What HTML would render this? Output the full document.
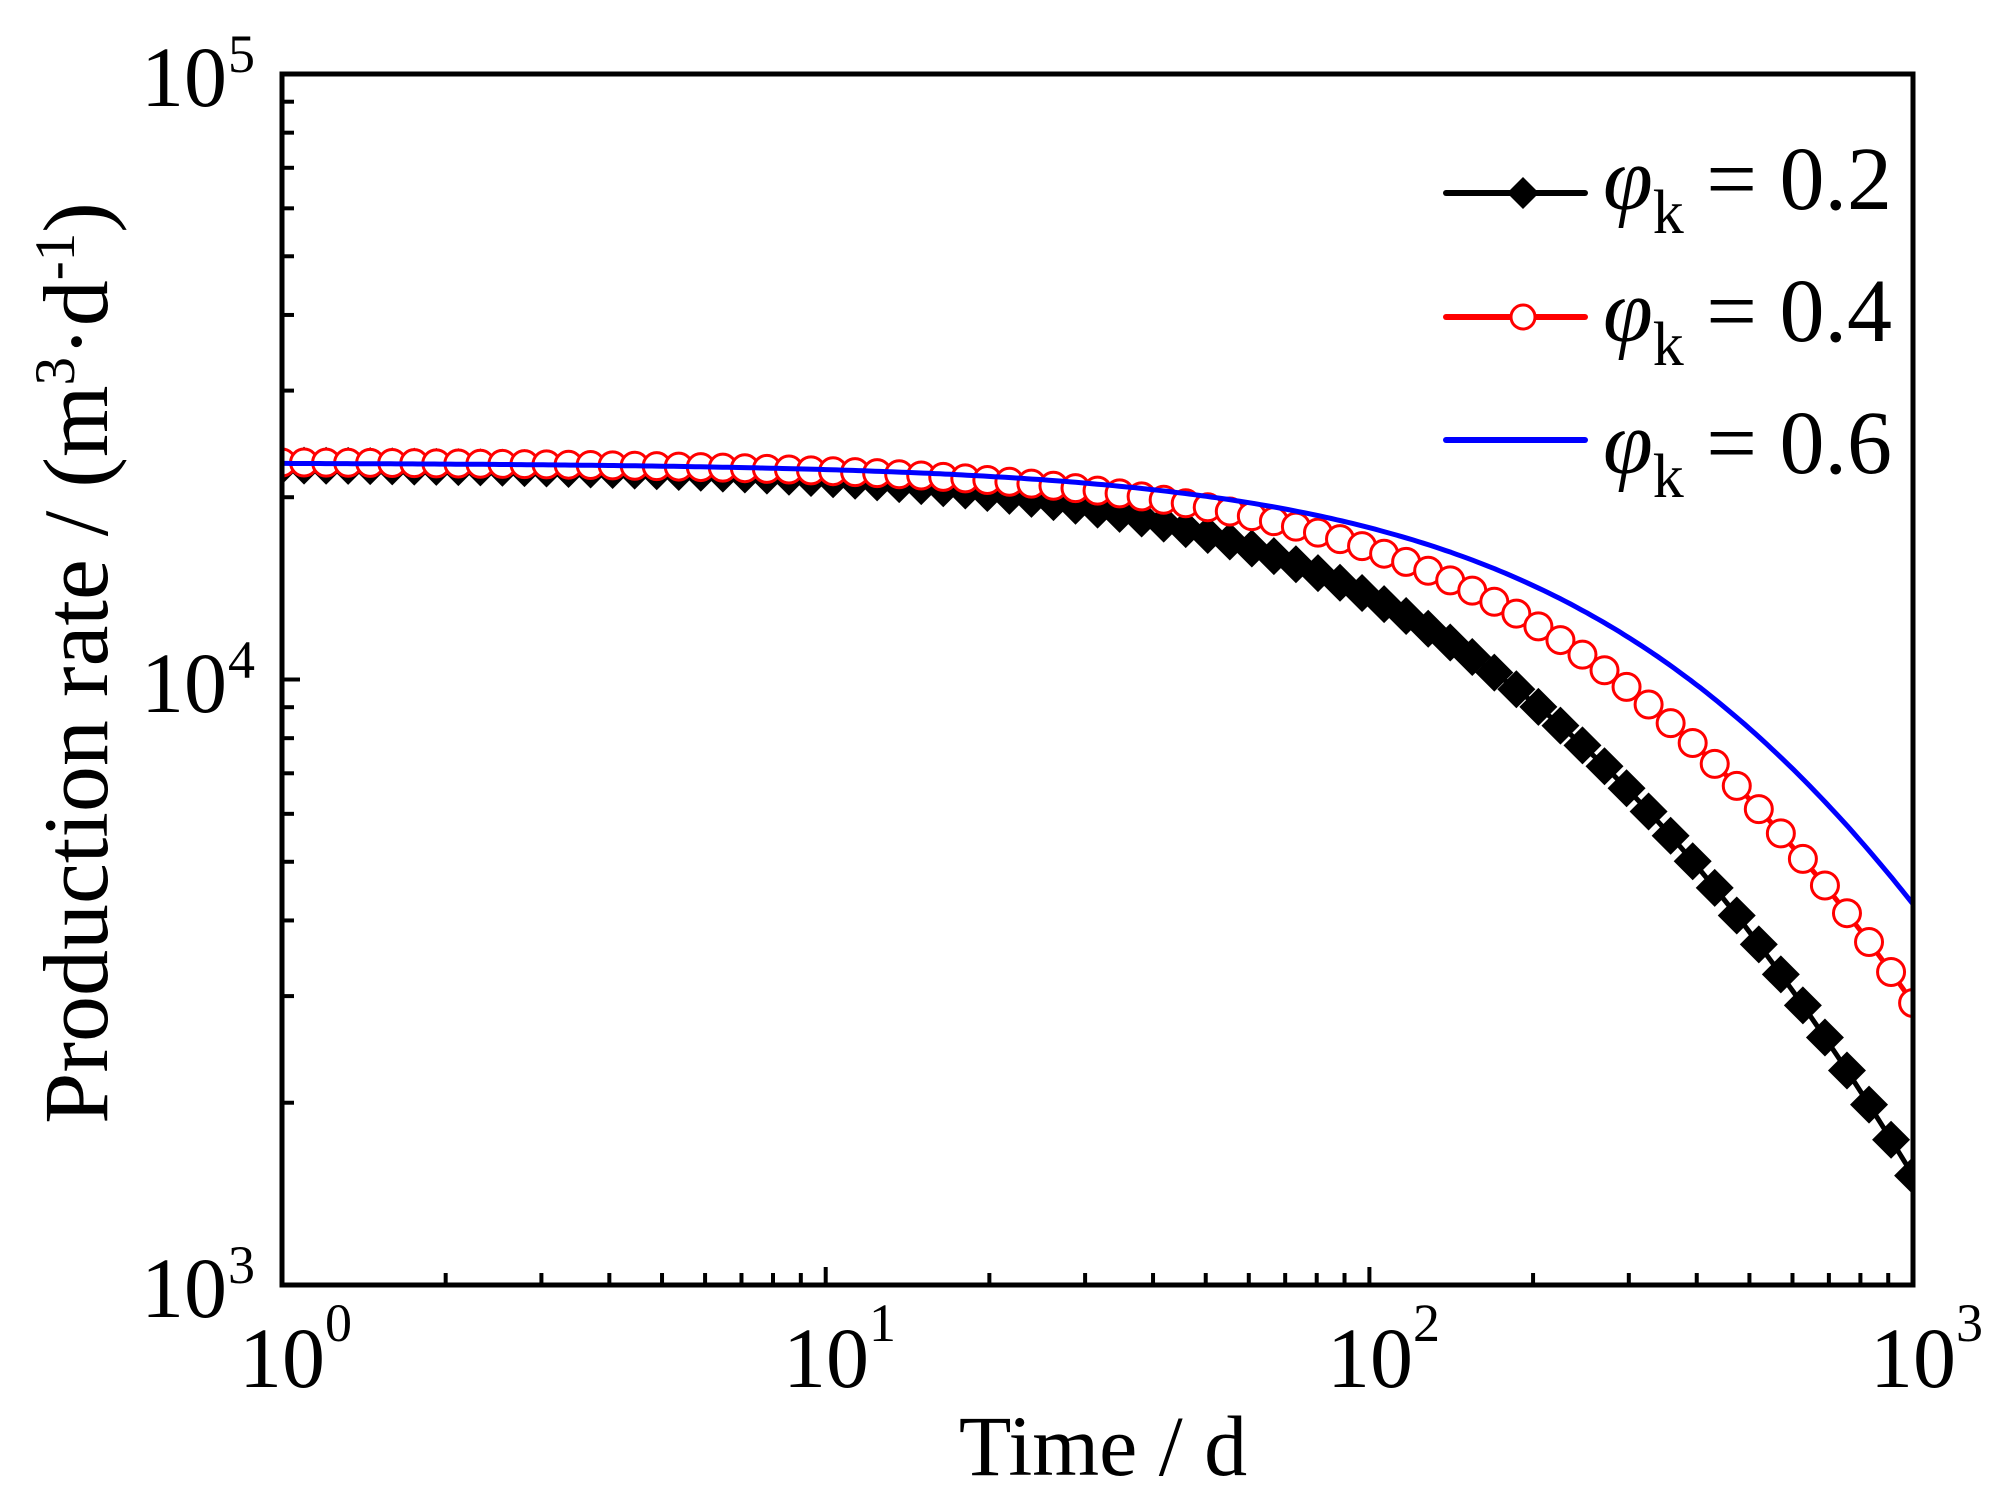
<!DOCTYPE html>
<html><head><meta charset="utf-8"><style>
html,body{margin:0;padding:0;background:#fff;}
svg{display:block;}
text{font-family:"Liberation Serif","Times New Roman",serif;fill:#000;}
</style></head><body>
<svg id="s" width="1989" height="1498" viewBox="0 0 1989 1498" xmlns="http://www.w3.org/2000/svg">
<g id="data"></g>
<rect x="282" y="74" width="1631" height="1211" fill="none" stroke="#000" stroke-width="5"/>
<g id="ticks" stroke="#000" stroke-width="4"></g>
<text x="227" y="106" font-size="86" text-anchor="end">10</text><text x="228" y="72" font-size="54">5</text>
<text x="227" y="712" font-size="86" text-anchor="end">10</text><text x="228" y="678" font-size="54">4</text>
<text x="227" y="1317" font-size="86" text-anchor="end">10</text><text x="228" y="1283" font-size="54">3</text>
<text x="282" y="1387" font-size="86" text-anchor="middle">10</text><text x="325" y="1341" font-size="54">0</text>
<text x="826" y="1387" font-size="86" text-anchor="middle">10</text><text x="869" y="1341" font-size="54">1</text>
<text x="1370" y="1387" font-size="86" text-anchor="middle">10</text><text x="1413" y="1341" font-size="54">2</text>
<text x="1913" y="1387" font-size="86" text-anchor="middle">10</text><text x="1956" y="1341" font-size="54">3</text>
<text x="1103" y="1475" font-size="86" text-anchor="middle">Time / d</text>
<text transform="translate(107,663) rotate(-90)" font-size="92" text-anchor="middle">Production rate / (m<tspan font-size="57" dy="-33">3</tspan><tspan dy="33">·d</tspan><tspan font-size="57" dy="-33">-1</tspan><tspan dy="33">)</tspan></text>
<g id="legend"></g>
<text x="1603" y="209" font-size="90"><tspan font-style="italic">φ</tspan><tspan font-size="62" dy="24">k</tspan><tspan dy="-24"> = 0.2</tspan></text>
<text x="1603" y="341" font-size="90"><tspan font-style="italic">φ</tspan><tspan font-size="62" dy="24">k</tspan><tspan dy="-24"> = 0.4</tspan></text>
<text x="1603" y="473" font-size="90"><tspan font-style="italic">φ</tspan><tspan font-size="62" dy="24">k</tspan><tspan dy="-24"> = 0.6</tspan></text>
</svg>
<script>
(function(){
var NS="http://www.w3.org/2000/svg";
var X0=282,DX=543.7,Y5=74,DY=605.5;
function px(lt){return X0+lt*DX;}
function py(lq){return Y5+(5-lq)*DY;}
function el(t,a,p){var e=document.createElementNS(NS,t);for(var k in a)e.setAttribute(k,a[k]);p.appendChild(e);return e;}
var ticks=document.getElementById('ticks');
for(var d=0;d<3;d++){for(var m=1;m<10;m++){var x=px(d+Math.log10(m));var L=(m==1)?18:12;
 if(d==0&&m==1)continue;
 el('line',{x1:x,y1:1285,x2:x,y2:1285-L},ticks);}}
for(var d=3;d<5;d++){for(var m=1;m<10;m++){var y=py(d+Math.log10(m));var L=(m==1)?18:12;
 if(d==3&&m==1)continue;
 el('line',{x1:282,y1:y,x2:282+L,y2:y},ticks);}}
function model(q0,D){return function(lt){var t=Math.pow(10,lt);return q0-2*Math.log10(1+D*t/2);};}
var black=model(4.356,0.00574);
var red=model(4.36,0.0036);
var blue=model(4.358,0.00263);
var g=document.getElementById('data');
var clip=el('clipPath',{id:'c'},el('defs',{},g));el('rect',{x:282,y:74,width:1631,height:1211},clip);
var gc=el('g',{'clip-path':'url(#c)'},g);
function path(f,col){var d='';for(var i=0;i<=300;i++){var lt=3*i/300;d+=(i?'L':'M')+px(lt).toFixed(1)+' '+py(f(lt)).toFixed(1);}
 el('path',{d:d,fill:'none',stroke:col,'stroke-width':5,'stroke-linejoin':'round'},gc);}
path(black,'#000');
var N=75;
for(var i=0;i<N;i++){var lt=3*i/(N-1);var x=px(lt),y=py(black(lt));var r=19;
 el('polygon',{points:(x)+','+(y-r)+' '+(x+r)+','+y+' '+x+','+(y+r)+' '+(x-r)+','+y,fill:'#000'},gc);}
path(red,'#f00');
for(var i=0;i<N;i++){var lt=3*i/(N-1);el('circle',{cx:px(lt),cy:py(red(lt)),r:13.5,fill:'#fff',stroke:'#f00','stroke-width':3},gc);}
path(blue,'#00f');
var lg=document.getElementById('legend');
var rows=[[193,'#000','d'],[317,'#f00','c'],[440,'#00f','']];
rows.forEach(function(r){el('line',{x1:1446,y1:r[0],x2:1585,y2:r[0],stroke:r[1],'stroke-width':6,'stroke-linecap':'round'},lg);
 var cx=1523;
 if(r[2]=='d'){var s=16;el('polygon',{points:cx+','+(r[0]-s)+' '+(cx+s)+','+r[0]+' '+cx+','+(r[0]+s)+' '+(cx-s)+','+r[0],fill:'#000'},lg);}
 if(r[2]=='c'){el('circle',{cx:cx,cy:r[0],r:12,fill:'#fff',stroke:'#f00','stroke-width':3},lg);}
});
})();
</script>
</body></html>
